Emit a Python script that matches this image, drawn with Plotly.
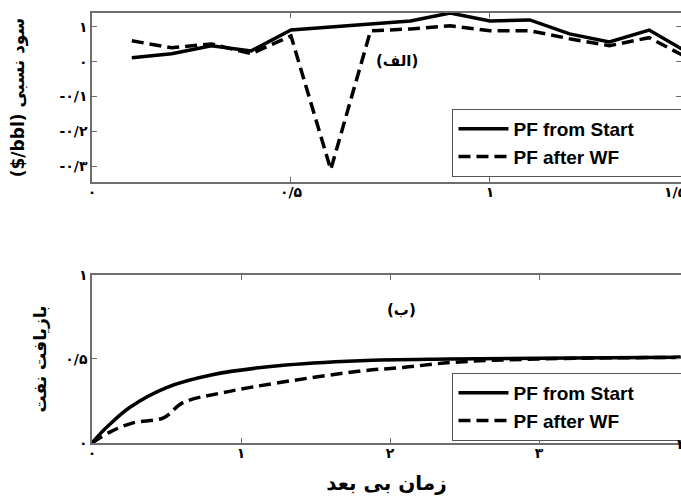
import plotly.graph_objects as go

# Top panel (relative profit)
top_x = [0.1, 0.2, 0.3, 0.4, 0.5, 0.6, 0.7, 0.8, 0.9, 1.0, 1.1, 1.2, 1.3, 1.4, 1.5]
top_start = [0.011, 0.023, 0.046, 0.031, 0.091, 0.100, 0.108, 0.117, 0.140, 0.117, 0.120, 0.080, 0.057, 0.091, 0.025]
top_wf = [0.060, 0.040, 0.051, 0.023, 0.074, -0.310, 0.089, 0.094, 0.103, 0.089, 0.089, 0.066, 0.046, 0.069, 0.009]

# Bottom panel (oil recovery)
bot_x_start = [0, 0.05, 0.1, 0.25, 0.5, 0.8, 1.25, 1.8, 2.4, 3.0, 3.95]
bot_start = [0, 0.05, 0.095, 0.21, 0.33, 0.405, 0.46, 0.49, 0.50, 0.505, 0.51]
bot_x_wf = [0, 0.12, 0.275, 0.48, 0.61, 0.88, 1.26, 1.82, 2.09, 2.42, 3.0, 3.95]
bot_wf = [0, 0.065, 0.12, 0.15, 0.24, 0.30, 0.36, 0.43, 0.45, 0.48, 0.50, 0.51]

top_yticks = [0.1, 0, -0.1, -0.2, -0.3]
top_yticktext = ["۱", "۰", "-۰/۱", "-۰/۲", "-۰/۳"]
top_xticks = [0, 0.5, 1.0]
top_xticktext = ["۰", "۰/۵", "۱"]
bot_yticks = [0, 0.5, 1]
bot_yticktext = ["۰", "۰/۵", "۱"]
bot_xticks = [0, 1, 2, 3]
bot_xticktext = ["۰", "۱", "۲", "۳"]

name_start = "PF from Start"
name_wf = "PF after WF"
pad = "\u00a0" * 8 + "<span style='color:white'>.</span>"

fa_font = "DejaVu Sans"
en_font = "Liberation Sans"

TOP_XMAX = 1.48
BOT_XMAX = 3.953

fig = go.Figure()
lw = 3.5
dash = "12px,6px"
fig.add_trace(go.Scatter(x=top_x, y=top_start, mode="lines", name=name_start + pad,
                         line=dict(color="black", width=lw), xaxis="x", yaxis="y", legend="legend"))
fig.add_trace(go.Scatter(x=top_x, y=top_wf, mode="lines", name=name_wf,
                         line=dict(color="black", width=lw, dash=dash), xaxis="x", yaxis="y", legend="legend"))
fig.add_trace(go.Scatter(x=bot_x_start, y=bot_start, mode="lines", name=name_start + pad,
                         line=dict(color="black", width=lw, shape="spline"), xaxis="x2", yaxis="y2", legend="legend2"))
fig.add_trace(go.Scatter(x=bot_x_wf, y=bot_wf, mode="lines", name=name_wf,
                         line=dict(color="black", width=lw, dash=dash, shape="spline"), xaxis="x2", yaxis="y2", legend="legend2"))

tickfont = dict(family=fa_font, size=14, color="black", weight="bold")
axis_common = dict(showline=True, linecolor="#6e6e6e", linewidth=1.5, mirror="ticks",
                   ticks="inside", ticklen=5, tickcolor="#6e6e6e", showgrid=False, zeroline=False,
                   tickfont=tickfont, automargin=False)

legend_font = dict(family=en_font, size=19, color="black", weight="bold")

fig.update_layout(
    width=681, height=499,
    margin=dict(l=92, r=0, t=13, b=56, autoexpand=False),
    paper_bgcolor="white", plot_bgcolor="white",
    xaxis=dict(domain=[0, 1], range=[0, TOP_XMAX], anchor="y", tickvals=top_xticks, ticktext=top_xticktext,
               ticklabelstandoff=-4, **axis_common),
    yaxis=dict(domain=[0.607, 1], range=[-0.346, 0.14], anchor="x", tickvals=top_yticks, ticktext=top_yticktext,
               title=dict(text="($/bbl) سود نسبی",
                          font=dict(family=fa_font, size=17, color="black", weight="bold"), standoff=30),
               **axis_common),
    xaxis2=dict(domain=[0, 1], range=[0, BOT_XMAX], anchor="y2", tickvals=bot_xticks, ticktext=bot_xticktext,
                ticklabelstandoff=-4,
                title=dict(text="زمان بی بعد", font=dict(family=fa_font, size=20, color="black", weight="bold"),
                           standoff=16),
                **axis_common),
    yaxis2=dict(domain=[0, 0.3907], range=[0, 1], anchor="x2", tickvals=bot_yticks, ticktext=bot_yticktext,
                title=dict(text="بازیافت نفت", font=dict(family=fa_font, size=17, color="black", weight="bold"),
                           standoff=14),
                **axis_common),
    legend=dict(x=0.612, y=0.777, xanchor="left", yanchor="top", bgcolor="white",
                bordercolor="#555555", borderwidth=1, itemwidth=50,
                font=legend_font, tracegroupgap=0),
    legend2=dict(x=0.612, y=0.163, xanchor="left", yanchor="top", bgcolor="white",
                 bordercolor="#555555", borderwidth=1, itemwidth=50,
                 font=legend_font, tracegroupgap=0),
    showlegend=True,
    annotations=[
        dict(text="(الف)", x=0.766, y=0.003, xref="x", yref="y", showarrow=False,
             font=dict(family=fa_font, size=15, color="black", weight="bold")),
        dict(text="(ب)", x=2.08, y=0.79, xref="x2", yref="y2", showarrow=False,
             font=dict(family=fa_font, size=15, color="black", weight="bold")),
        dict(text="۱/۵", x=1.5 / TOP_XMAX, y=0.607, xref="paper", yref="paper", yshift=-10,
             showarrow=False, font=tickfont),
        dict(text="۴", x=4 / BOT_XMAX, y=0, xref="paper", yref="paper", yshift=-11,
             showarrow=False, font=tickfont),
    ],
)

fig.write_html("out.html")
